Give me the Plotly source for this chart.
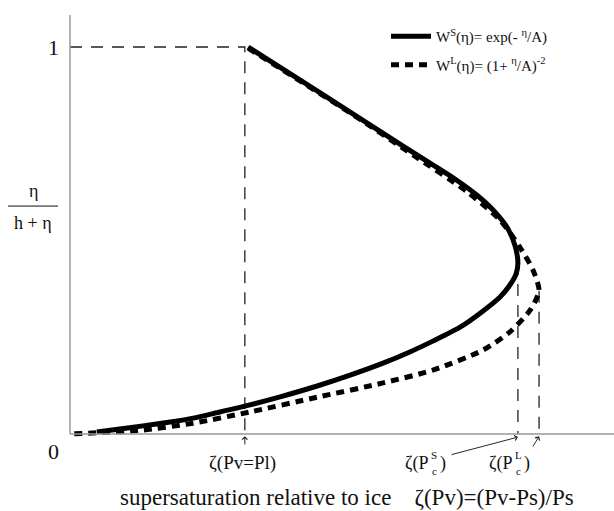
import plotly.graph_objects as go

# ---- data (x: supersaturation zeta, arbitrary units; y: eta/(h+eta)) ----
solid_x = [0.379, 0.489, 0.596, 0.702, 0.766, 0.819, 0.866, 0.904, 0.932, 0.947,
           0.953, 0.949, 0.936, 0.915, 0.879, 0.830, 0.772, 0.723, 0.666, 0.596,
           0.526, 0.447, 0.372, 0.319, 0.262, 0.213, 0.155, 0.106, 0.057]
solid_y = [1.000, 0.915, 0.832, 0.749, 0.700, 0.659, 0.617, 0.574, 0.530, 0.486,
           0.442, 0.413, 0.385, 0.354, 0.318, 0.276, 0.240, 0.212, 0.183, 0.152,
           0.124, 0.096, 0.072, 0.057, 0.041, 0.031, 0.021, 0.013, 0.005]

dash_x = [0.379, 0.596, 0.730, 0.845, 0.915, 0.957, 0.985, 0.998, 0.979, 0.936,
          0.879, 0.772, 0.666, 0.526, 0.383, 0.262, 0.155, 0.057, 0.0]
dash_y = [0.997, 0.830, 0.721, 0.626, 0.553, 0.483, 0.424, 0.370, 0.320, 0.264,
          0.217, 0.165, 0.132, 0.095, 0.057, 0.028, 0.010, 0.003, 0.0]

zeta_pl = 0.372      # zeta(Pv = Pl)
zeta_cs = 0.953      # zeta(Pc^S)
zeta_cl = 0.998      # zeta(Pc^L)
top_cs = 0.442
top_cl = 0.370

legend_s = "W<sup>S</sup>(η)= exp(- <sup>η</sup>/A)"
legend_l = "W<sup>L</sup>(η)= (1+ <sup>η</sup>/A)<sup>-2</sup>"

FONT = "Liberation Serif"
INK = "#111"
GUIDE = dict(color="#222", width=1.3, dash="12px,9px")

fig = go.Figure()

# guide lines
fig.add_trace(go.Scatter(x=[0, zeta_pl, zeta_pl], y=[1, 1, 0], mode="lines",
                         line=GUIDE, showlegend=False, hoverinfo="skip"))
fig.add_trace(go.Scatter(x=[zeta_cs, zeta_cs], y=[top_cs, 0], mode="lines",
                         line=GUIDE, showlegend=False, hoverinfo="skip"))
fig.add_trace(go.Scatter(x=[zeta_cl, zeta_cl], y=[top_cl, 0], mode="lines",
                         line=GUIDE, showlegend=False, hoverinfo="skip"))

# curves
fig.add_trace(go.Scatter(x=dash_x, y=dash_y, mode="lines", name=legend_l,
                         legendgroup="l", legendrank=2,
                         line=dict(color="black", width=5, dash="8px,6px",
                                   shape="spline", smoothing=0.7)))
fig.add_trace(go.Scatter(x=solid_x, y=solid_y, mode="lines", name=legend_s,
                         legendgroup="s", legendrank=1,
                         line=dict(color="black", width=5, shape="spline", smoothing=0.7)))

X0, X1 = -70 / 470, 544 / 470
Y0, Y1 = (434 - 511) / 387, 434 / 387

shapes = [
    dict(type="line", xref="x", yref="y", x0=0, x1=X1, y0=0, y1=0,
         line=dict(color="#999", width=1.5)),
    dict(type="line", xref="x", yref="y", x0=0, x1=0, y0=0, y1=(434 - 15) / 387,
         line=dict(color="#999", width=1.5)),
    dict(type="line", xref="x", yref="y", x0=-0.132, x1=-0.0255, y0=0.589, y1=0.589,
         line=dict(color=INK, width=1)),
]

def txt(x, y, s, size=15, xanchor="center", yanchor="middle"):
    return dict(x=x, y=y, xref="x", yref="y", text=s, showarrow=False,
                font=dict(family=FONT, size=size, color=INK),
                xanchor=xanchor, yanchor=yanchor)

def arrow(x0, y0, x1, y1):
    return dict(x=x1, y=y1, ax=x0, ay=y0, xref="x", yref="y", axref="x", ayref="y",
                text="", showarrow=True, arrowhead=4, arrowsize=1.1, arrowwidth=0.9,
                arrowcolor=INK)

ann = [
    txt(-0.036, 1.0, "1", size=22),
    txt(-0.036, -0.044, "0", size=22),
    txt(-0.0787, 0.627, "η", size=18),
    txt(-0.0787, 0.546, "h + η", size=18),
    txt(0.368, -0.075, "ζ(Pv=Pl)", size=19),
    # zeta(Pc^S)
    txt(0.7660, -0.075, "ζ(P", size=18, xanchor="right"),
    txt(0.7755, -0.055, "S", size=11),
    txt(0.7755, -0.095, "c", size=11),
    txt(0.7840, -0.075, ")", size=18, xanchor="left"),
    # zeta(Pc^L)
    txt(0.9447, -0.075, "ζ(P", size=18, xanchor="right"),
    txt(0.9542, -0.055, "L", size=11),
    txt(0.9542, -0.095, "c", size=11),
    txt(0.9627, -0.075, ")", size=18, xanchor="left"),
    txt(0.590, -0.165, "supersaturation relative to ice\u00a0\u00a0\u00a0\u00a0ζ(Pv)=(Pv-Ps)/Ps", size=23),
    arrow(zeta_pl, -0.031, zeta_pl, -0.006),
    arrow(0.8085, -0.0543, zeta_cs, -0.008),
    arrow(0.983, -0.036, zeta_cl, -0.006),
]

fig.update_layout(
    width=614, height=511,
    margin=dict(l=0, r=0, t=0, b=0),
    paper_bgcolor="white", plot_bgcolor="white",
    xaxis=dict(range=[X0, X1], visible=False, fixedrange=True),
    yaxis=dict(range=[Y0, Y1], visible=False, fixedrange=True),
    shapes=shapes, annotations=ann,
    showlegend=True,
    legend=dict(x=386 / 614, y=1 - 20 / 511, xanchor="left", yanchor="top",
                bgcolor="rgba(0,0,0,0)", tracegroupgap=6, itemwidth=40,
                font=dict(family=FONT, size=15, color=INK)),
    font=dict(family=FONT, color=INK),
)

fig.write_html("out.html")
